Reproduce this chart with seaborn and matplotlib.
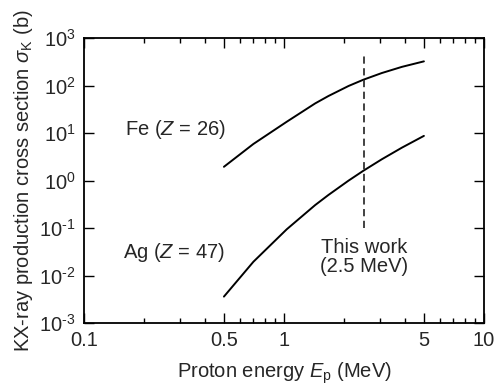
import numpy as np
import pandas as pd
import seaborn as sns
import matplotlib.pyplot as plt
from matplotlib.ticker import FixedLocator, FixedFormatter, NullFormatter

# ---------------------------------------------------------
# Data
# ---------------------------------------------------------
energy = [0.5, 0.702, 1.03, 1.43, 1.665, 2.1, 2.49, 3.08, 3.88, 5.0]
fe_sigma = [1.95, 5.9, 17.3, 42.2, 60.3, 98.2, 133.0, 184.0, 248.0, 324.0]
ag_sigma = [0.0036, 0.0195, 0.094, 0.305, 0.497, 0.998, 1.61, 2.81, 4.93, 8.73]

this_work_energy = 2.5
this_work_span = [0.1, 500.0]

x_major = [0.1, 0.5, 1, 5, 10]
x_major_labels = ["0.1", "0.5", "1", "5", "10"]
x_minor = [0.2, 0.3, 0.4, 0.6, 0.7, 0.8, 0.9, 2, 3, 4, 6, 7, 8, 9]
y_major = [1e-3, 1e-2, 1e-1, 1e0, 1e1, 1e2, 1e3]
y_major_labels = [r"$10^{\text{-}3}$", r"$10^{\text{-}2}$", r"$10^{\text{-}1}$",
                  r"$10^{0}$", r"$10^{1}$", r"$10^{2}$", r"$10^{3}$"]

# ---------------------------------------------------------
# Style
# ---------------------------------------------------------
sns.set_style("ticks")
plt.rcParams["font.family"] = ["Liberation Sans", "DejaVu Sans"]
plt.rcParams["mathtext.fontset"] = "custom"
plt.rcParams["mathtext.rm"] = "Liberation Sans"
plt.rcParams["mathtext.it"] = "Liberation Sans:italic"
plt.rcParams["mathtext.default"] = "regular"
plt.rcParams["axes.unicode_minus"] = False

FS = 14.5

fig = plt.figure(figsize=(4.95, 3.85), dpi=100)
ax = fig.add_axes([0.170, 0.161, 0.808, 0.740])

df = pd.concat([
    pd.DataFrame({"E": energy, "sigma": fe_sigma, "el": "Fe"}),
    pd.DataFrame({"E": energy, "sigma": ag_sigma, "el": "Ag"}),
])
for el in ["Fe", "Ag"]:
    sub = df[df["el"] == el]
    sns.lineplot(data=sub, x="E", y="sigma", ax=ax, color="black",
                 linewidth=1.4, estimator=None, sort=True)

ax.plot([this_work_energy, this_work_energy], this_work_span,
        color="#333333", linestyle=(0, (4, 2.5)), linewidth=1.3)

ax.set_xscale("log")
ax.set_yscale("log")
ax.set_xlim(0.1, 10)
ax.set_ylim(1e-3, 1e3)

ax.xaxis.set_major_locator(FixedLocator(x_major))
ax.xaxis.set_major_formatter(FixedFormatter(x_major_labels))
ax.xaxis.set_minor_locator(FixedLocator(x_minor))
ax.xaxis.set_minor_formatter(NullFormatter())
ax.yaxis.set_major_locator(FixedLocator(y_major))
ax.yaxis.set_major_formatter(FixedFormatter(y_major_labels))
ax.yaxis.set_minor_locator(FixedLocator([]))

ax.tick_params(which="both", direction="in", top=True, right=True,
               labelsize=FS, color="black", width=1.0, pad=6)
ax.tick_params(which="major", length=7)
ax.tick_params(which="minor", length=3.5)
for s in ax.spines.values():
    s.set_linewidth(1.3)
    s.set_color("black")

ax.set_xlabel(r"Proton energy $\mathit{E}_{\rm p}$ (MeV)", fontsize=FS, labelpad=7)
ax.set_ylabel(r"KX-ray production cross section $\mathit{\sigma}_{\rm K}$ (b)",
              fontsize=FS, labelpad=3)

ax.text(0.285, 12, r"Fe ($\mathit{Z}$ = 26)", fontsize=FS, ha="center", va="center")
ax.text(0.28, 0.03, r"Ag ($\mathit{Z}$ = 47)", fontsize=FS, ha="center", va="center")
ax.text(2.5, 0.024, "This work\n(2.5 MeV)", fontsize=FS, ha="center", va="center",
        linespacing=1.0)

fig.savefig("out.png", dpi=100)
